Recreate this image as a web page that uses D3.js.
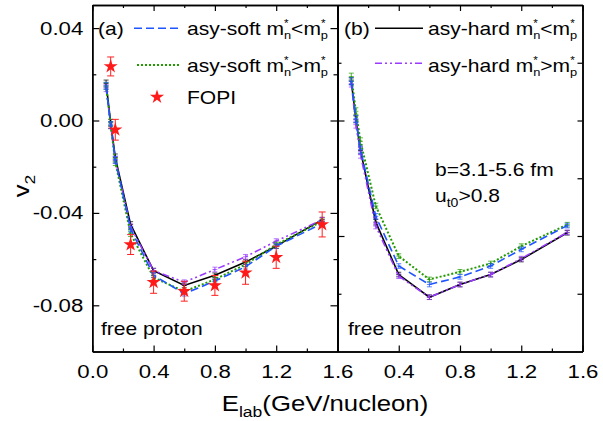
<!DOCTYPE html>
<html>
<head>
<meta charset="utf-8">
<script src="https://cdn.jsdelivr.net/npm/d3@7"></script>
<style>
  body { margin: 0; background: #fff; }
  svg { font-family: "Liberation Sans", Arial, sans-serif; }
</style>
</head>
<body>
<div id="chart"></div>
<script>
// beam energies (GeV/nucleon) of the transport calculations
var energy = [0.09, 0.12, 0.15, 0.25, 0.4, 0.6, 0.8, 1.0, 1.2, 1.5];
var simErr = [0.0015, 0.0015, 0.0015, 0.0012, 0.001, 0.001, 0.001, 0.001, 0.001, 0.001];

// (a) free proton
var protonSoftLess    = [0.015, -0.002, -0.017, -0.047, -0.067, -0.075, -0.0695, -0.0633, -0.0544, -0.0446];
var protonSoftGreater = [0.015, -0.002, -0.018, -0.049, -0.068, -0.074, -0.0688, -0.0623, -0.0537, -0.0436];
var protonHardLess    = [0.016, -0.001, -0.016, -0.045, -0.065, -0.0714, -0.067, -0.0613, -0.0544, -0.0429];
var protonHardGreater = [0.014, -0.002, -0.017, -0.046, -0.065, -0.070, -0.0645, -0.059, -0.0522, -0.043];

// (b) free neutron
var neutronSoftLess    = [0.017, 0.0007, -0.0126, -0.0415, -0.063, -0.071, -0.0677, -0.063, -0.0558, -0.0455];
var neutronSoftGreater = [0.019, 0.004, -0.009, -0.037, -0.0587, -0.0688, -0.0655, -0.0619, -0.0544, -0.0451];
var neutronHardLess    = [0.017, 0.0005, -0.013, -0.044, -0.0667, -0.0765, -0.071, -0.0667, -0.0602, -0.0486];
var neutronHardGreater = [0.016, -0.0018, -0.0148, -0.0457, -0.0674, -0.0765, -0.071, -0.0667, -0.0598, -0.0484];

// FOPI data
var fopiE   = [0.12, 0.15, 0.25, 0.4, 0.6, 0.8, 1.0, 1.2, 1.5];
var fopiV2  = [0.0234, -0.004, -0.0537, -0.070, -0.0739, -0.0714, -0.0659, -0.0592, -0.045];
var fopiErr = [0.0041, 0.0045, 0.0043, 0.0048, 0.0043, 0.0043, 0.005, 0.0048, 0.0054];

var leftMajor = [-0.08, -0.04, 0, 0.04];
var leftMinor = [-0.06, -0.02, 0.02];
var rightMajor = [-0.05, 0];
var rightMinor = [-0.075, -0.025, 0.025];
var xMajor = [0, 0.4, 0.8, 1.2, 1.6];
var xMinor = [0.2, 0.6, 1.0, 1.4];

var SX = 1.17; // text is a little wider than Arial in the original
var W = 603, H = 421;
var yTop = 5, yBottom = 351.5, x0 = 92.3, xm = 337.5, x1 = 582.5;

var svg = d3.select("#chart").append("svg").attr("width", W).attr("height", H);

var y = d3.scaleLinear().domain([-0.1, 0.05]).range([yBottom, yTop]);
var xa = d3.scaleLinear().domain([0, 1.6]).range([x0, xm]);
var xb = d3.scaleLinear().domain([0, 1.6]).range([xm, x1]);

function addText(g, x, yy, size, anchor) {
	return g.append("text")
		.attr("transform", "translate(" + x + "," + yy + ") scale(" + SX + ",1)")
		.attr("font-size", size)
		.attr("text-anchor", anchor || "start")
		.attr("fill", "#000");
}

function styleAxis(g) {
	g.selectAll("path.domain").attr("stroke", "#000").attr("stroke-width", 1.5);
	g.selectAll(".tick line").attr("stroke", "#000").attr("stroke-width", 1.2);
	g.selectAll(".tick text")
		.attr("font-size", 19)
		.attr("font-family", "Liberation Sans, Arial, sans-serif")
		.attr("fill", "#000")
		.attr("transform", "scale(" + SX + ",1)");
}

function addAxis(axis, tx, ty) {
	var g = svg.append("g").attr("transform", "translate(" + tx + "," + ty + ")").call(axis);
	styleAxis(g);
	return g;
}

var fmtY = function(d) { return d.toFixed(2); };
var fmtX = function(d) { return d.toFixed(1); };

// left panel y axes
addAxis(d3.axisLeft(y).tickValues(leftMajor).tickSizeInner(-7).tickSizeOuter(0).tickPadding(9 / SX).tickFormat(fmtY), x0, 0);
addAxis(d3.axisLeft(y).tickValues(leftMinor).tickSizeInner(-4).tickSizeOuter(0).tickFormat(""), x0, 0);
addAxis(d3.axisRight(y).tickValues(leftMajor).tickSizeInner(-7).tickSizeOuter(0).tickFormat(""), xm, 0);
addAxis(d3.axisRight(y).tickValues(leftMinor).tickSizeInner(-4).tickSizeOuter(0).tickFormat(""), xm, 0);

// right panel y axes (no labels)
addAxis(d3.axisLeft(y).tickValues(rightMajor).tickSizeInner(-7).tickSizeOuter(0).tickFormat(""), xm, 0);
addAxis(d3.axisLeft(y).tickValues(rightMinor).tickSizeInner(-4).tickSizeOuter(0).tickFormat(""), xm, 0);
addAxis(d3.axisRight(y).tickValues(rightMajor).tickSizeInner(-5).tickSizeOuter(0).tickFormat(""), x1, 0);
addAxis(d3.axisRight(y).tickValues(rightMinor).tickSizeInner(-5).tickSizeOuter(0).tickFormat(""), x1, 0);

// x axes, both panels
[xa, xb].forEach(function(xs, i) {
	var labels = i == 0 ? xMajor : xMajor.slice(1);
	addAxis(d3.axisBottom(xs).tickValues(labels).tickSizeInner(-6).tickSizeOuter(0).tickPadding(13).tickFormat(fmtX), 0, yBottom);
	addAxis(d3.axisBottom(xs).tickValues(xMinor).tickSizeInner(-3).tickSizeOuter(0).tickFormat(""), 0, yBottom);
	addAxis(d3.axisTop(xs).tickValues(xMajor).tickSizeInner(-6).tickSizeOuter(0).tickFormat(""), 0, yTop);
	addAxis(d3.axisTop(xs).tickValues(xMinor).tickSizeInner(-3).tickSizeOuter(0).tickFormat(""), 0, yTop);
});

var series = [
	{ key: "hardLess",    color: "#000000", dash: null,          width: 1.6 },
	{ key: "hardGreater", color: "#9a3cff", dash: "7,3,2,3,2,3", width: 1.6 },
	{ key: "softGreater", color: "#229a00", dash: "2,2",         width: 2 },
	{ key: "softLess",    color: "#1f55ff", dash: "8,4",         width: 1.6 }
];

var panels = [
	{ x: xa, values: { softLess: protonSoftLess, softGreater: protonSoftGreater, hardLess: protonHardLess, hardGreater: protonHardGreater } },
	{ x: xb, values: { softLess: neutronSoftLess, softGreater: neutronSoftGreater, hardLess: neutronHardLess, hardGreater: neutronHardGreater } }
];

panels.forEach(function(p) {
	series.forEach(function(s) {
		var vals = p.values[s.key];
		var pts = energy.map(function(e, i) { return [e, vals[i], simErr[i]]; });
		var g = svg.append("g");
		// small error bars
		g.selectAll("line.err").data(pts).enter().append("line")
			.attr("x1", function(d) { return p.x(d[0]); }).attr("x2", function(d) { return p.x(d[0]); })
			.attr("y1", function(d) { return y(d[1] - d[2]); }).attr("y2", function(d) { return y(d[1] + d[2]); })
			.attr("stroke", s.color).attr("stroke-width", 1).attr("opacity", 0.8);
		[-1, 0, 1].forEach(function(k) {
			g.selectAll("line.cap" + (k + 1)).data(pts).enter().append("line")
				.attr("x1", function(d) { return p.x(d[0]) - 2.5; }).attr("x2", function(d) { return p.x(d[0]) + 2.5; })
				.attr("y1", function(d) { return y(d[1] + k * d[2]); }).attr("y2", function(d) { return y(d[1] + k * d[2]); })
				.attr("stroke", s.color).attr("stroke-width", 1).attr("opacity", 0.7);
		});
		g.append("path")
			.datum(pts)
			.attr("d", d3.line().x(function(d) { return p.x(d[0]); }).y(function(d) { return y(d[1]); }))
			.attr("fill", "none")
			.attr("stroke", s.color)
			.attr("stroke-width", s.width)
			.attr("stroke-dasharray", s.dash);
	});
});

// FOPI stars with error bars
var fopi = fopiE.map(function(e, i) { return [e, fopiV2[i], fopiErr[i]]; });
var fg = svg.append("g");
fg.selectAll("line.bar").data(fopi).enter().append("line")
	.attr("x1", function(d) { return xa(d[0]); }).attr("x2", function(d) { return xa(d[0]); })
	.attr("y1", function(d) { return y(d[1] - d[2]); }).attr("y2", function(d) { return y(d[1] + d[2]); })
	.attr("stroke", "#ff2020").attr("stroke-width", 1);
[-1, 1].forEach(function(k) {
	fg.selectAll("line.c" + (k + 1)).data(fopi).enter().append("line")
		.attr("x1", function(d) { return xa(d[0]) - 3.5; }).attr("x2", function(d) { return xa(d[0]) + 3.5; })
		.attr("y1", function(d) { return y(d[1] + k * d[2]); }).attr("y2", function(d) { return y(d[1] + k * d[2]); })
		.attr("stroke", "#ff2020").attr("stroke-width", 1);
});
var star = d3.symbol().type(d3.symbolStar).size(62);
fg.selectAll("path.star").data(fopi).enter().append("path")
	.attr("d", star)
	.attr("transform", function(d) { return "translate(" + xa(d[0]) + "," + y(d[1]) + ")"; })
	.attr("fill", "#ff1a1a");

// legends
function massLabel(x, yy, prefix, op) {
	var t = addText(svg, x, yy, 18);
	t.append("tspan").text(prefix + "m");
	t.append("tspan").attr("font-size", 10).attr("dy", -8).text("*");
	t.append("tspan").attr("font-size", 11).attr("dx", -4).attr("dy", 12).text("n");
	t.append("tspan").attr("dy", -4).text(op + "m");
	t.append("tspan").attr("font-size", 10).attr("dy", -8).text("*");
	t.append("tspan").attr("font-size", 11).attr("dx", -4).attr("dy", 12).text("p");
}
function legendLine(xs, xe, yy, s) {
	svg.append("line").attr("x1", xs).attr("x2", xe).attr("y1", yy).attr("y2", yy)
		.attr("stroke", s.color).attr("stroke-width", s.width).attr("stroke-dasharray", s.dash);
}

addText(svg, 98, 35, 18).text("(a)");
legendLine(134, 182, 28.3, series[3]);
massLabel(187, 35, "asy-soft ", "<");
legendLine(137, 181, 65, series[2]);
massLabel(187, 72, "asy-soft ", ">");
svg.append("path").attr("d", star).attr("transform", "translate(157,97)").attr("fill", "#ff1a1a");
addText(svg, 187, 104, 18).text("FOPI");

addText(svg, 344, 35, 18).text("(b)");
legendLine(375, 423, 28.3, series[0]);
massLabel(428, 35, "asy-hard ", "<");
legendLine(375, 423, 63.3, series[1]);
massLabel(428, 72, "asy-hard ", ">");

addText(svg, 435, 176, 18).text("b=3.1-5.6 fm");
var ut = addText(svg, 435, 202, 18);
ut.append("tspan").text("u");
ut.append("tspan").attr("font-size", 12).attr("dy", 5).text("t0");
ut.append("tspan").attr("dy", -5).text(">0.8");

addText(svg, 101, 335, 18).text("free proton");
addText(svg, 348, 335, 18).text("free neutron");

// axis titles
var xt = addText(svg, 325, 411, 22, "middle");
xt.append("tspan").text("E");
xt.append("tspan").attr("font-size", 15).attr("dy", 6).text("lab");
xt.append("tspan").attr("dy", -6).text("(GeV/nucleon)");

var yt = svg.append("text")
	.attr("transform", "translate(29,186) rotate(-90) scale(" + SX + ",1)")
	.attr("font-size", 22).attr("text-anchor", "middle");
yt.append("tspan").text("v");
yt.append("tspan").attr("font-size", 15).attr("dy", 6).text("2");
</script>
</body>
</html>
